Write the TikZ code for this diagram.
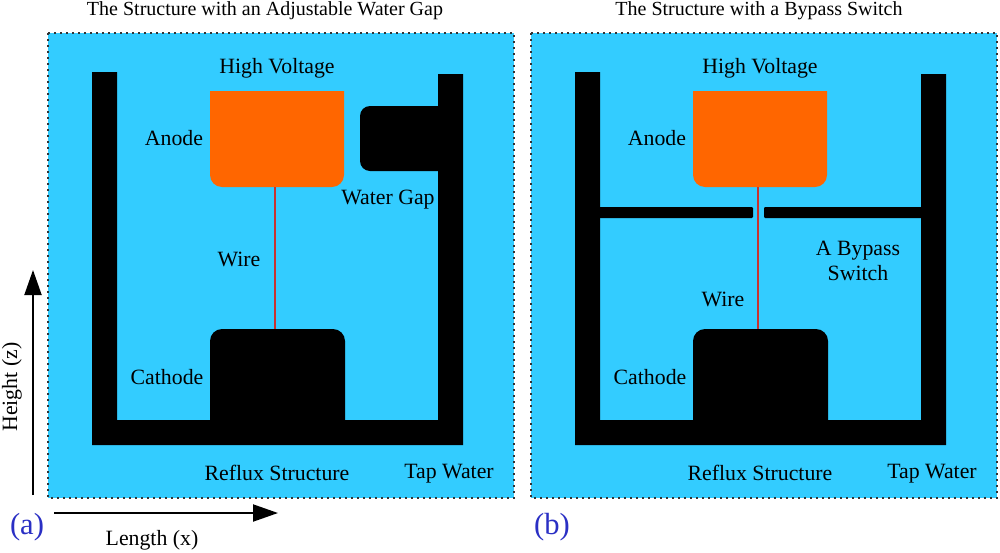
\documentclass[tikz,border=0pt]{standalone}
\usepackage{fontspec}
\setmainfont{Liberation Serif}
\usetikzlibrary{arrows.meta}
\definecolor{tapWater}{HTML}{33CCFF}
\definecolor{anodeOrange}{HTML}{FF6600}
\definecolor{wireRed}{HTML}{C8312F}
\definecolor{panelBlue}{HTML}{2A2FC4}
\newcommand{\labelSize}{\fontsize{10.9}{12.6}\selectfont}
\tikzset{
	lbl/.style={inner sep=0pt,align=center,font=\labelSize},
	titleLbl/.style={inner sep=0pt,font=\fontsize{10}{12}\selectfont},
	panelLbl/.style={inner sep=0pt,text=panelBlue,font=\fontsize{15.3}{17}\selectfont},
	axisArrow/.style={line width=1pt,-{Triangle[length=12.5pt,width=8.5pt]}},
	wire/.style={wireRed,line width=0.65pt}
}

\begin{document}
\begin{tikzpicture}[x=0.5pt,y=-0.5pt]
	\useasboundingbox (0,0) rectangle (1000,552);
	\foreach \name/\dx in {A/0,B/483}{
		\begin{scope}[xshift=\dx*0.5pt]
			\fill[tapWater] (48,33) rectangle (514,498);
			\draw[line width=1pt,dotted,black!80] (48,33) rectangle (514,498);
			% reflux structure
			\fill[black] (92,72) -- (117,72) -- (117,420) -- (438,420) -- (438,74) -- (463,74) -- (463,445) -- (92,445) -- cycle;
			% anode and cathode
			\fill[anodeOrange] (210,91) [rounded corners=6pt] -- (210,187) -- (344,187) [sharp corners] -- (344,91) -- cycle;
			\fill[black] (210,425) [rounded corners=6pt] -- (210,329) -- (345,329) [sharp corners] -- (345,425) -- cycle;
			\coordinate (anode\name) at (275,187);
			\coordinate (cathode\name) at (275,329);
			\draw[wire] (anode\name) -- (cathode\name);
			\node[lbl] (hv\name) at (277,68) {High Voltage};
			\node[lbl] (anodeLbl\name) at (174,138) {Anode};
			\node[lbl] (cathodeLbl\name) at (167,377) {Cathode};
			\node[lbl] (reflux\name) at (277,473) {Reflux Structure};
			\node[lbl] (tap\name) at (449,474) {Tap Water};
		\end{scope}
	}
	% water gap
	\fill[black] (440,106) [rounded corners=5pt] -- (360,106) -- (360,171) [sharp corners] -- (440,171) -- cycle;
	\node[lbl] (gapLbl) at (388,200) {Water Gap};
	\node[lbl] (wireLblA) at (239,259) {Wire};
	% bypass switch
	\fill[black,rounded corners=0.6pt] (598,207) rectangle (753,218);
	\fill[black,rounded corners=0.6pt] (764,207) rectangle (923,218);
	\node[lbl] (switchLbl) at (858,261) {A Bypass\\Switch};
	\node[lbl] (wireLblB) at (723,299) {Wire};
	% titles
	\node[titleLbl] (titleA) at (265,11) {The Structure with an Adjustable Water Gap};
	\node[titleLbl] (titleB) at (759,11) {The Structure with a Bypass Switch};
	% axes
	\coordinate (origY) at (33,495);
	\coordinate (endY) at (33,270);
	\coordinate (origX) at (54,513);
	\coordinate (endX) at (278,513);
	\draw[axisArrow] (origY) -- (endY);
	\draw[axisArrow] (origX) -- (endX);
	\node[lbl,rotate=90] (heightLbl) at (12,387) {Height (z)};
	\node[lbl] (lengthLbl) at (152,540) {Length (x)};
	\node[panelLbl] (panelA) at (27,527) {(a)};
	\node[panelLbl] (panelB) at (552,527) {(b)};
\end{tikzpicture}
\end{document}
